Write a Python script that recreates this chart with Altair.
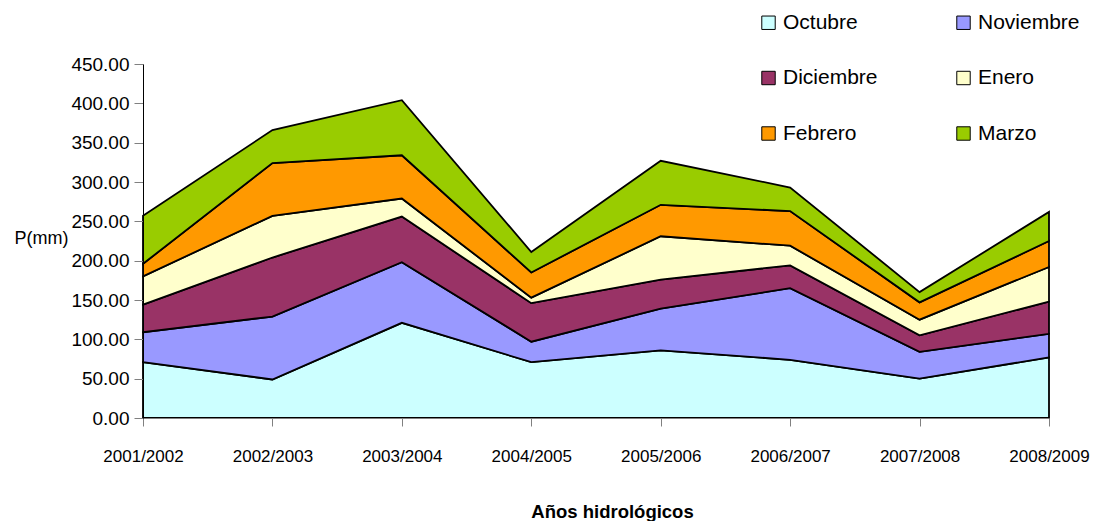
import altair as alt
import pandas as pd

years = ["2001/2002", "2002/2003", "2003/2004", "2004/2005",
         "2005/2006", "2006/2007", "2007/2008", "2008/2009"]
months = ["Octubre", "Noviembre", "Diciembre", "Enero", "Febrero", "Marzo"]

octubre = [71, 49, 121, 71, 86, 74, 50, 77]
noviembre = [38, 80, 77, 26, 53, 91, 34, 30]
diciembre = [35, 75, 58, 49, 37, 29, 21, 41]
enero = [36, 53, 23, 7, 55, 25, 20, 44]
febrero = [16, 67, 55, 32, 40, 44, 22, 33]
marzo = [61, 42, 70, 26, 56, 30, 13, 37]

colors = ["#CCFFFF", "#9999FF", "#993366", "#FFFFCC", "#FF9900", "#99CC00"]
y_ticks = [0, 50, 100, 150, 200, 250, 300, 350, 400, 450]

series = {
    "Octubre": octubre,
    "Noviembre": noviembre,
    "Diciembre": diciembre,
    "Enero": enero,
    "Febrero": febrero,
    "Marzo": marzo,
}

rows = []
for mi, m in enumerate(months):
    for yi, yr in enumerate(years):
        rows.append({"year": yr, "month": m, "ord": mi, "value": series[m][yi]})
df = pd.DataFrame(rows)

FONT = "Liberation Sans"

chart = alt.Chart(df).mark_area(
    stroke="black", strokeWidth=1.8, opacity=1, fillOpacity=1
).encode(
    x=alt.X(
        "year:O", sort=years,
        scale=alt.Scale(type="point", padding=0),
        axis=alt.Axis(
            title="Años hidrológicos", labelAngle=0, labelFontSize=17,
            labelFont=FONT, labelColor="black", tickSize=8,
            tickColor="#808080", domainColor="#808080", labelPadding=22,
            titleFontSize=18.5, titleFont=FONT, titleFontWeight="bold",
            titleColor="black", titleX=469, titleY=99, titleAlign="center",
            titleBaseline="alphabetic", zindex=1,
        ),
    ),
    y=alt.Y(
        "value:Q", stack="zero",
        scale=alt.Scale(domain=[0, 450], nice=False),
        axis=alt.Axis(
            values=y_ticks, format=".2f", title="P(mm)", titleAngle=0,
            titleX=-102, titleY=174, titleAlign="center",
            titleBaseline="middle", titleFontSize=18, titleFontWeight="normal",
            titleFont=FONT, titleColor="black",
            labelFontSize=19, labelFont=FONT, labelColor="black",
            tickSize=9, labelPadding=5, domainColor="black",
            tickColor="#808080", grid=False, zindex=1,
        ),
    ),
    color=alt.Color(
        "month:N", sort=months,
        scale=alt.Scale(domain=months, range=colors),
        legend=alt.Legend(
            title=None, orient="none", legendX=615, legendY=-52,
            direction="horizontal",
            columns=2, columnPadding=75, rowPadding=33.5, padding=0,
            symbolType="square", symbolSize=180, symbolStrokeColor="black",
            symbolStrokeWidth=1, labelFontSize=21, labelFont=FONT,
            labelColor="black", labelOffset=4,
        ),
    ),
    order=alt.Order("ord:Q", sort="ascending"),
).properties(
    width=906,
    height=354,
    autosize=alt.AutoSizeParams(type="none"),
    padding={"left": 135, "top": 56, "right": 41, "bottom": 103},
).configure_view(strokeWidth=0)

chart.save("out.html", embed_options={"renderer": "svg", "actions": False})
